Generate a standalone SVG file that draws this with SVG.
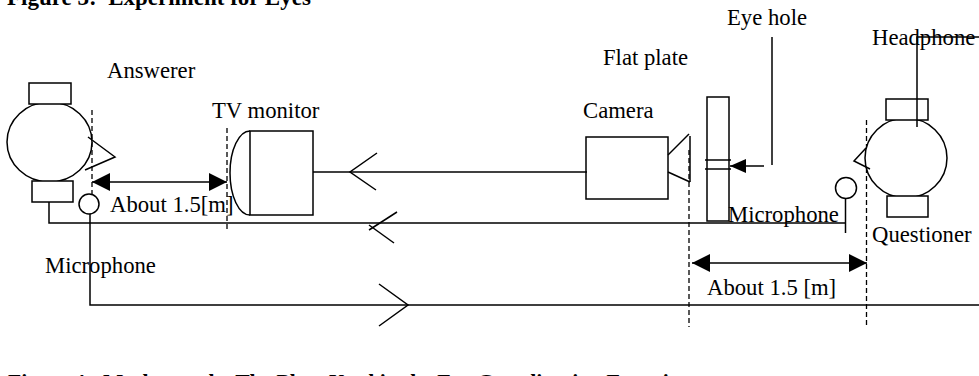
<svg xmlns="http://www.w3.org/2000/svg" width="979" height="376" viewBox="0 0 979 376">
  <style>
    .ln{fill:none;stroke:#000;stroke-width:1.5}
    .box{fill:#fff;stroke:#000;stroke-width:1.5}
    .dash{fill:none;stroke:#000;stroke-width:1.3;stroke-dasharray:5 3}
    .dim{fill:none;stroke:#000;stroke-width:1.5;marker-start:url(#tri);marker-end:url(#tri)}
    .t{font-family:"Liberation Serif","Times New Roman",serif;font-size:22.7px;fill:#000}
    .cap{font-family:"Liberation Serif","Times New Roman",serif;font-weight:bold;fill:#000}
  </style>
  <defs>
    <marker id="tri" viewBox="0 0 18 18" refX="18" refY="9" markerWidth="18" markerHeight="18" markerUnits="userSpaceOnUse" orient="auto-start-reverse">
      <path d="M0,0 L18,9 L0,18 Z" fill="#000"/>
    </marker>
    <marker id="tri-s" viewBox="0 0 16 14" refX="16" refY="7" markerWidth="16" markerHeight="14" markerUnits="userSpaceOnUse" orient="auto">
      <path d="M0,0 L16,7 L0,14 Z" fill="#000"/>
    </marker>
  </defs>
  <rect width="979" height="376" fill="#fff"/>

  <!-- figure captions -->
  <text class="cap" x="7" y="5" font-size="23" xml:space="preserve">Figure 3:  Experiment for Eyes</text>
  <text class="cap" x="8" y="389" font-size="21.6" xml:space="preserve">Figure 4:  Mechanosphe The Plate Used in the Eye Coordination Experiment</text>

  <!-- distance guides (dashed) -->
  <g id="guides">
    <line class="dash" x1="92" y1="110" x2="92" y2="195"/>
    <line class="dash" x1="227" y1="128" x2="227" y2="229"/>
    <line class="dash" x1="689" y1="150" x2="689" y2="327"/>
    <line class="dash" x1="866.5" y1="120" x2="866.5" y2="325"/>
  </g>

  <g id="answerer">
    <ellipse class="box" cx="49.5" cy="142" rx="42.5" ry="40"/>
    <rect class="box" x="29" y="83" width="42" height="21"/>
    <rect class="box" x="32" y="181" width="41" height="21"/>
    <polyline class="ln" points="88,137 115,157 85,170"/>
    <text class="t" x="107" y="78">Answerer</text>
  </g>

  <g id="mic-answerer">
    <circle class="box" cx="89" cy="204" r="10"/>
    <text class="t" x="45" y="273">Microphone</text>
  </g>

  <g id="tv-monitor">
    <path class="ln" d="M250,131 A20,42 0 0 0 250,215"/>
    <rect class="box" x="250" y="131" width="63" height="84"/>
    <text class="t" x="212" y="118">TV monitor</text>
  </g>

  <g id="camera">
    <rect class="box" x="586" y="137" width="82" height="62"/>
    <polyline class="ln" points="689,134 668,155"/>
    <polyline class="ln" points="668,172 690,182"/>
    <line class="ln" x1="690" y1="136" x2="690" y2="182"/>
    <text class="t" x="583" y="118">Camera</text>
  </g>

  <g id="flat-plate">
    <rect class="box" x="707" y="97" width="22" height="124"/>
    <line class="ln" x1="705" y1="160" x2="731" y2="160"/>
    <line class="ln" x1="705" y1="169" x2="731" y2="169"/>
    <text class="t" x="603" y="65">Flat plate</text>
  </g>

  <g id="eye-hole">
    <line class="ln" x1="772" y1="37" x2="772" y2="165"/>
    <line class="ln" x1="764" y1="166" x2="730" y2="166" marker-end="url(#tri-s)"/>
    <text class="t" x="727" y="25">Eye hole</text>
  </g>

  <g id="questioner">
    <ellipse class="box" cx="906" cy="158" rx="41" ry="40"/>
    <rect class="box" x="886" y="99" width="42" height="21"/>
    <rect class="box" x="887" y="196" width="41" height="21"/>
    <polyline class="ln" points="866,148 854,161 870,169"/>
    <text class="t" x="872" y="242">Questioner</text>
    <text class="t" x="872" y="45">Headphone</text>
  </g>

  <g id="mic-questioner">
    <circle class="box" cx="846" cy="188" r="10.5"/>
    <text class="t" x="728" y="222">Microphone</text>
  </g>

  <!-- distance dimensions -->
  <g id="dimensions">
    <line class="dim" x1="92" y1="182" x2="227" y2="182"/>
    <text class="t" x="110" y="212">About 1.5[m]</text>
    <line class="dim" x1="692" y1="263" x2="867" y2="263"/>
    <text class="t" x="707" y="295">About 1.5 [m]</text>
  </g>

  <!-- signal paths -->
  <g id="connectors">
    <!-- camera to TV monitor -->
    <line class="ln" x1="313" y1="172" x2="587" y2="172"/>
    <polyline class="ln" points="377,153 350,172 376,190"/>
    <!-- questioner microphone to answerer -->
    <polyline class="ln" points="49,202 49,223 846,223"/>
    <line class="ln" x1="845.5" y1="198" x2="845.5" y2="233"/>
    <line class="ln" x1="397" y1="212" x2="369" y2="230"/>
    <line class="ln" x1="369" y1="225" x2="394" y2="243"/>
    <!-- answerer microphone to questioner headphone -->
    <polyline class="ln" points="90,214 90,305 979,305"/>
    <polyline class="ln" points="379,284 408,305 379,326"/>
    <polyline class="ln" points="917,127 917,37 979,37"/>
  </g>
</svg>
